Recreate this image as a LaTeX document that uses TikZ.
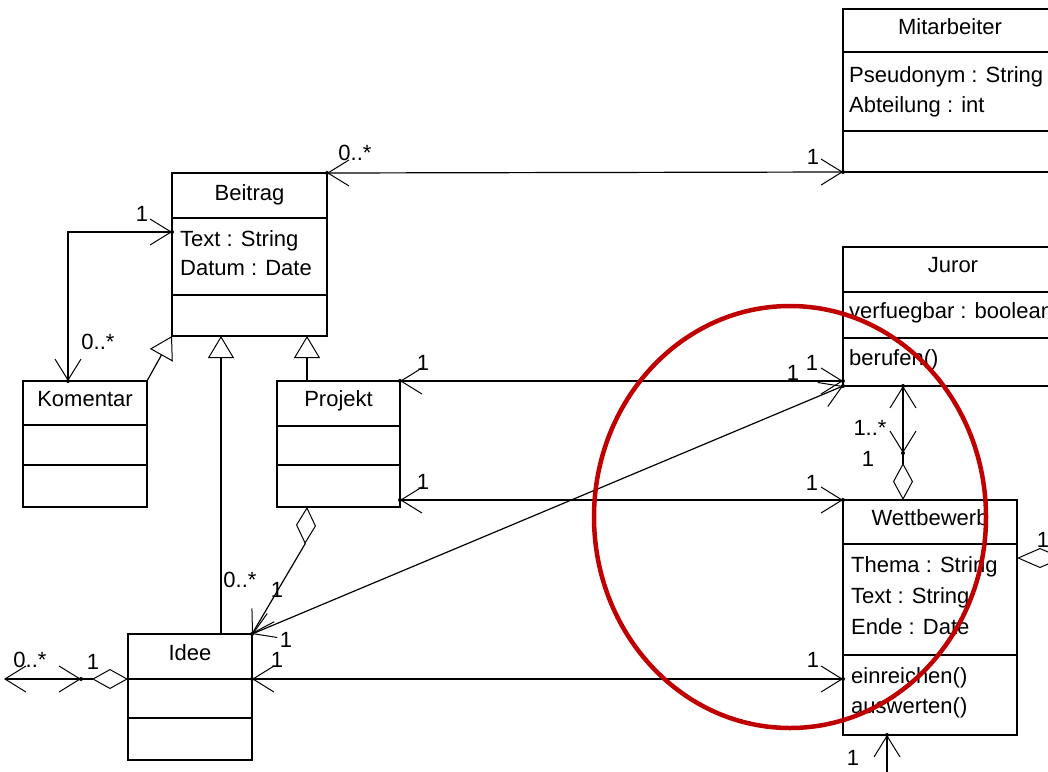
\documentclass[tikz,border=0pt]{standalone}
\usepackage{fontspec}
\setmainfont{Liberation Sans}
\usetikzlibrary{arrows.meta,calc}
\definecolor{ringred}{RGB}{192,0,0}
\newcommand\umlbox[7]{%
  \node[box,minimum width={(#4-(#2))*1pt},minimum height={(#5-(#3))*1pt}] (#1) at ({(#2+#4)/2},{(#3+#5)/2}) {};
  \draw[sepline] (#2,#6) -- (#4,#6);
  \draw[sepline] (#2,#7) -- (#4,#7);
}
\begin{document}
\begin{tikzpicture}[x=1pt,y=-1pt,
  box/.style={draw,line width=1.4pt,inner sep=0pt,outer sep=0pt,fill=white},
  sepline/.style={line width=1.3pt},
  ttl/.style={inner sep=0pt,anchor=base,font=\fontsize{22}{26}\selectfont},
  attr/.style={inner sep=0pt,anchor=base west,font=\fontsize{22}{26}\selectfont},
  lbl/.style={inner sep=0pt,font=\fontsize{22}{26}\selectfont},
  assoc/.style={line width=1.2pt},
  >={Straight Barb[length=21pt,width=26pt,line width=1pt]},
  gen/.style={-{Triangle[open,length=22pt,width=26pt,line width=1pt]}},
  tipdot/.style={fill=black},
]
\useasboundingbox (0,0) rectangle (1048,771);
\clip (0,0) rectangle (1048,771);

% classes
\umlbox{mitarb}{843}{9}{1057}{172}{52}{131}
\umlbox{beitrag}{172}{173}{327}{336}{218}{295}
\umlbox{komentar}{23}{381}{147}{507}{425}{465}
\umlbox{projekt}{277}{381}{400}{507}{426}{465}
\umlbox{idee}{128}{634}{252}{760}{679}{718}
\umlbox{juror}{843}{247}{1063}{386}{292}{338}
\umlbox{wettb}{843}{500}{1017}{735}{544}{655}

% texts
\node[ttl] (mitarbT) at (950,34) {Mitarbeiter};
\node[attr] (mitarbA1) at (849,82) {Pseudonym : String};
\node[attr] (mitarbA2) at (849,112) {Abteilung : int};
\node[ttl] (beitragT) at (249.5,200) {Beitrag};
\node[attr] (beitragA1) at (180,246) {Text : String};
\node[attr] (beitragA2) at (180,275) {Datum : Date};
\node[ttl] (komentarT) at (85,406) {Komentar};
\node[ttl] (projektT) at (338.5,406) {Projekt};
\node[ttl] (ideeT) at (190,660) {Idee};
\node[ttl] (jurorT) at (953,272) {Juror};
\node[attr] (jurorA1) at (849,318) {verfuegbar : boolean};
\node[attr] (jurorM1) at (849,365) {berufen()};
\node[ttl] (wettbT) at (930,525) {Wettbewerb};
\node[attr] (wettbA1) at (851,572) {Thema : String};
\node[attr] (wettbA2) at (851,603) {Text : String};
\node[attr] (wettbA3) at (851,634) {Ende : Date};
\node[attr] (wettbM1) at (851,683) {einreichen()};
\node[attr] (wettbM2) at (851,713) {auswerten()};

% connector end points
\coordinate (kTop) at ($(komentar.north west)+(45,0)$);
\coordinate (bLeft) at ($(beitrag.north west)+(0,59)$);
\coordinate (jA) at ($(juror.south west)+(0,-5)$);
\coordinate (pE2) at ($(projekt.south east)+(0,-7)$);
\coordinate (iE) at ($(idee.north east)+(0,45)$);
\coordinate (wW) at (iE -| wettb.west);
\coordinate (jB) at ($(juror.south west)+(60,0)$);
\coordinate (jw) at ($(juror.south west)+(60,67)$);
\coordinate (wT) at (jw |- wettb.north);
\coordinate (wB) at ($(wettb.south west)+(44,0)$);
\coordinate (wBo) at ($(wettb.south west)+(44,45)$);
\coordinate (il) at ($(idee.north west)+(-47,45)$);
\coordinate (iW) at (il -| idee.west);
\coordinate (offl) at ($(idee.north west)+(-124,45)$);
\coordinate (pS) at ($(projekt.south west)+(30,0)$);
\coordinate (pD) at ($(projekt.south west)+(28,37)$);
\coordinate (pN) at ($(projekt.north west)+(30,0)$);
\coordinate (iN) at ($(idee.north west)+(93,0)$);
\coordinate (wR) at ($(wettb.north east)+(0,58)$);
\coordinate (wRo) at ($(wettb.north east)+(80,58)$);

% associations
\draw[assoc,<->] (beitrag.north east) -- (mitarb.south west);
\draw[assoc,<->] (kTop) |- (bLeft);
\draw[assoc,gen] (komentar.north east) -- (beitrag.south west);
\draw[assoc,gen] (iN) -- (iN |- beitrag.south);
\draw[assoc,gen] (pN) -- (pN |- beitrag.south);
\draw[assoc,<->] (projekt.north east) -- (jA);
\draw[assoc,<->] (pE2) -- (wettb.north west);
\draw[assoc,<->] (idee.north east) -- (juror.south west);
\draw[assoc,-{Diamond[open,length=37pt,width=20pt,line width=1pt]}] (pD) -- (pS);
\draw[assoc,->] (pD) -- (idee.north east);
\draw[assoc,<->] (iE) -- (wW);
\draw[assoc,<->] (jB) -- (jw);
\draw[assoc,-{Diamond[open,length=37pt,width=20pt,line width=1pt]}] (jw) -- (wT);
\draw[assoc,{Diamond[open,length=46pt,width=20pt,line width=1pt]}-] (wR) -- (wRo);
\draw[assoc,->] (wBo) -- (wB);
\draw[assoc,<->] (offl) -- (il);
\draw[assoc,-{Diamond[open,length=36pt,width=20pt,line width=1pt]}] (il) -- (iW);

% tip dots
\foreach \p in {beitrag.north east,mitarb.south west,kTop,bLeft,projekt.north east,jA,pE2,wettb.north west,idee.north east,juror.south west,iE,wW,jB,jw,wB,il}
  \fill[tipdot] (\p) circle[radius=2];

% multiplicities
\node[lbl] (m1) at (355,153) {0..*};
\node[lbl] (m2) at (813,157) {1};
\node[lbl] (m3) at (142,214) {1};
\node[lbl] (m4) at (98,342) {0..*};
\node[lbl] (m5) at (423,363) {1};
\node[lbl] (m6) at (812,363) {1};
\node[lbl] (m7) at (793,373) {1};
\node[lbl] (m8) at (423,482) {1};
\node[lbl] (m9) at (812,483) {1};
\node[lbl] (m10) at (870,428) {1..*};
\node[lbl] (m11) at (868,459) {1};
\node[lbl] (m12) at (1043,540) {1};
\node[lbl] (m13) at (277,660) {1};
\node[lbl] (m14) at (813,660) {1};
\node[lbl] (m15) at (30,660) {0..*};
\node[lbl] (m16) at (93,662) {1};
\node[lbl] (m17) at (240,580) {0..*};
\node[lbl] (m18) at (277,590) {1};
\node[lbl] (m19) at (286,640) {1};
\node[lbl] (m20) at (853,758) {1};

% highlight ring
\draw[ringred,line width=4.5pt] (790,517) ellipse[x radius=196,y radius=211];
\end{tikzpicture}
\end{document}
